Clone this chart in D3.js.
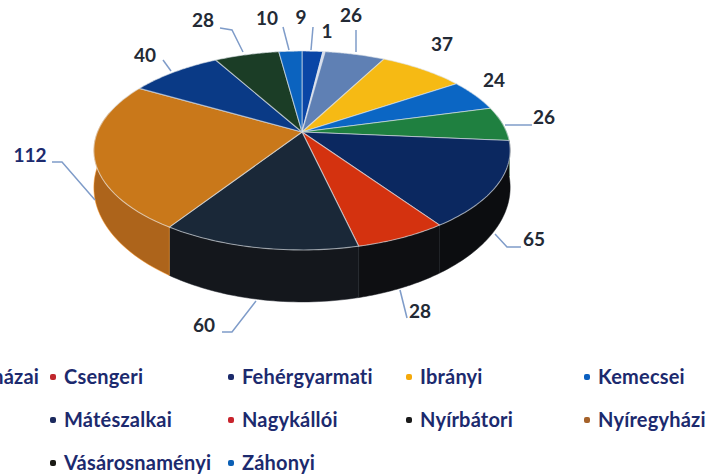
<!DOCTYPE html>
<html><head><meta charset="utf-8">
<script src="https://cdn.jsdelivr.net/npm/d3@7"></script>
<style>html,body{margin:0;padding:0;background:#fff;overflow:hidden}svg{display:block}</style>
</head><body><svg id="c" width="706" height="475"></svg>
<script>
const categories=["Baktalórántházai","Csengeri","Fehérgyarmati","Ibrányi","Kemecsei","Kisvárdai","Mátészalkai","Nagykállói","Nyírbátori","Nyíregyházi","Tiszavasvári","Vásárosnaményi","Záhonyi"];
const values=[9,1,26,37,24,26,65,28,60,112,40,28,10];
const topColors=["#0a46a6","#d5dcf0","#5f80b4","#f6ba14","#0b66c4","#1f8040","#0b2860","#d4320f","#1a2838","#c9781a","#0a3a86","#1b3d26","#0b63bf"];
const wallColors=["#0a3580","#aab","#44608a","#c09010","#084f98","#175f30","#0c0d10","#0e0f12","#14171c","#ad641b","#082c66","#14301c","#084a90"];
const legendColors=["#1f4fa8","#c0272d","#1b2a6b","#f5a90a","#0b5fc0","#1f8040","#1c2a5e","#c8232c","#1a1a1a","#a5622a","#1b2a6b","#1a1a14","#0b5fb5"];
const labelOffsets=[[301,24,[[313,27],[311,50]]],[327,38,null],[351,22,[[356,30],[356,52]]],[442,51,null],[494,87,null],[544,124,[[532,125],[505,125]]],[534,246,[[521,247],[507,247],[495,234]]],[420,318,[[407,318],[400,290]]],[204,332,[[222,332],[232,332],[256,301]]],[30,162,[[52,162],[62,162],[95,200]]],[145,62,[[163,60],[171,71]]],[203,27,[[220,28],[232,30],[243,52]]],[267,25,[[283,27],[289,50]]]];

const svg=d3.select("#c");
const cx=302,cy=132,sx=204.5,sy=96,persp=0.186;
const den=a=>1+persp*Math.cos(a);
const rim=a=>[cx+sx*Math.sin(a)/den(a),cy-sy*Math.cos(a)/den(a)];
const depth=a=>52*Math.pow((1-persp)/den(a),2);
const arcs=d3.pie().sort(null).value(d=>d).startAngle(0).endAngle(2*Math.PI)(values);
const line=d3.line();
const samples=(a,b)=>d3.range(0,41).map(i=>a+(b-a)*i/40);

const vis0=80*Math.PI/180,vis1=282*Math.PI/180;
const walls=arcs.map((d,i)=>({a:Math.max(d.startAngle,vis0),b:Math.min(d.endAngle,vis1),i})).filter(d=>d.b>d.a);
svg.append("g").selectAll("path").data(walls).join("path")
  .attr("d",d=>{
    const t=samples(d.a,d.b);
    const up=t.map(rim);
    const down=t.slice().reverse().map(a=>{const p=rim(a);return [p[0],p[1]+depth(a)];});
    return line(up.concat(down))+"Z";
  })
  .attr("fill",d=>wallColors[d.i])
  .attr("stroke",d=>d3.color(wallColors[d.i]).brighter(1.2))
  .attr("stroke-width",0.5);

svg.append("g").selectAll("path").data(arcs).join("path")
  .attr("d",(d,i)=>line([[cx,cy]].concat(samples(d.startAngle,d.endAngle).map(rim)))+"Z")
  .attr("fill",(d,i)=>topColors[i])
  .attr("stroke","rgba(225,230,235,0.6)")
  .attr("stroke-width",1.1)
  .attr("stroke-linejoin","round");

svg.append("g").selectAll("path").data(labelOffsets.filter(d=>d[2])).join("path")
  .attr("d",d=>line(d[2])).attr("fill","none").attr("stroke","#7f9cc9").attr("stroke-width",1.5);

svg.append("g").selectAll("text").data(values).join("text")
  .attr("x",(d,i)=>labelOffsets[i][0]).attr("y",(d,i)=>labelOffsets[i][1])
  .attr("text-anchor","middle")
  .attr("font-family","Lato,'Noto Sans',sans-serif").attr("font-weight",700).attr("font-size",19)
  .attr("fill",d=>d===112?"#1c2a6e":"#232a35")
  .text(d=>d);

const legendX=d3.scalePoint().domain(d3.range(5)).range([-114,598]);
const legendY=d3.scalePoint().domain(d3.range(3)).range([384,470]);
const lg=svg.append("g").selectAll("g").data(categories).join("g")
  .attr("transform",(d,i)=>`translate(${legendX(i%5)},${legendY(Math.floor(i/5))})`);
lg.append("rect").attr("x",-14).attr("y",-10).attr("width",6).attr("height",6).attr("rx",2)
  .attr("fill",(d,i)=>legendColors[i]);
lg.append("text").text(d=>d)
  .attr("font-family","Lato,'Noto Sans',sans-serif").attr("font-weight",700).attr("font-size",20)
  .attr("letter-spacing",0.2)
  .attr("fill","#1c2a6e");
// entries lying wholly beyond the left edge do not appear in the picture
lg.filter(function(){return this.getBoundingClientRect().right<0;}).remove();
</script></body></html>
